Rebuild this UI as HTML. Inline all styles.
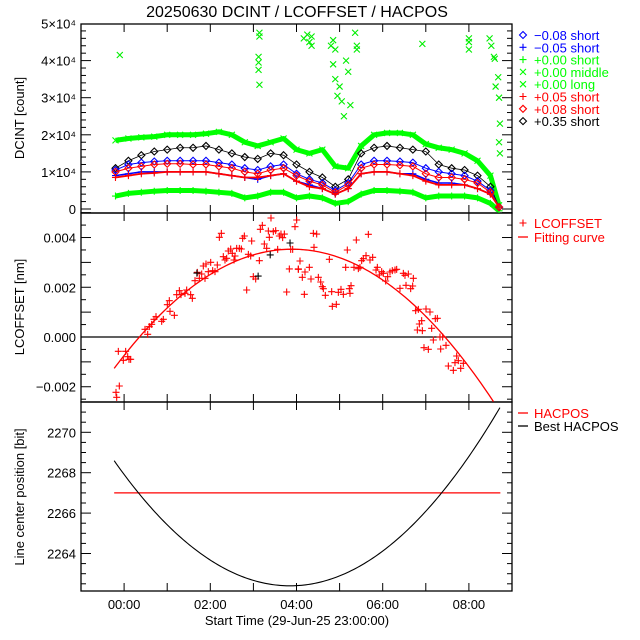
<!DOCTYPE html>
<html><head><meta charset="utf-8"><style>
html,body{margin:0;padding:0;background:#fff;}
svg{display:block;font-family:"Liberation Sans","DejaVu Sans",sans-serif;}
</style></head><body>
<svg id="chart" width="640" height="640" viewBox="0 0 640 640" xmlns="http://www.w3.org/2000/svg">
<rect x="0" y="0" width="640" height="640" fill="#fff"/>
<text x="297" y="17" font-size="16" text-anchor="middle">20250630 DCINT / LCOFFSET / HACPOS</text>
<defs>
<clipPath id="c1"><rect x="81" y="24" width="431" height="189"/></clipPath>
<clipPath id="c2"><rect x="81" y="213" width="431" height="189"/></clipPath>
<clipPath id="c3"><rect x="81" y="402" width="431" height="189"/></clipPath>
</defs>
<g id="axes"></g>
<g id="p1" clip-path="url(#c1)"></g>
<g id="p2" clip-path="url(#c2)"></g>
<g id="p3" clip-path="url(#c3)"></g>
<text transform="translate(24,118) rotate(-90)" font-size="13" text-anchor="middle">DCINT [count]</text>
<text transform="translate(24,307) rotate(-90)" font-size="13" text-anchor="middle">LCOFFSET [nm]</text>
<text transform="translate(24,497) rotate(-90)" font-size="13" text-anchor="middle">Line center position [bit]</text>
<text x="297" y="625" font-size="13" text-anchor="middle">Start Time (29-Jun-25 23:00:00)</text>
<g id="legend"></g>
</svg>
<script>
// ---- DCINT panel data (values in units of 1e4 counts) ----
const dcTimes = [0.8,1.1,1.4,1.7,2.0,2.3,2.6,2.9,3.2,3.5,3.8,4.1,4.4,4.7,5.0,5.3,5.6,5.9,6.2,6.5,6.8,7.1,7.4,7.7,8.0,8.3,8.6,8.9,9.2,9.5,9.7];
const greenLong = [1.85,1.9,1.93,1.95,2.0,2.0,2.0,2.03,2.08,2.0,1.8,1.7,1.8,1.9,1.6,1.5,1.6,1.15,1.1,1.7,2.0,2.05,2.05,2.0,1.75,1.65,1.6,1.5,1.3,0.9,0.1];
const blackDiamond = [1.1,1.3,1.45,1.55,1.6,1.65,1.65,1.7,1.6,1.5,1.4,1.35,1.5,1.45,1.2,1.0,0.85,0.6,0.8,1.5,1.65,1.7,1.65,1.6,1.55,1.2,1.1,1.05,0.9,0.6,0.05];
const blueDiamond = [1.05,1.2,1.25,1.28,1.3,1.3,1.3,1.3,1.25,1.2,1.1,1.05,1.15,1.2,0.95,0.8,0.7,0.5,0.7,1.2,1.3,1.3,1.28,1.25,1.1,1.0,0.95,0.9,0.75,0.5,0.05];
const bluePlus = [0.9,0.95,1.0,1.0,1.0,1.0,1.0,1.0,0.95,0.9,0.85,0.8,0.9,0.95,0.75,0.65,0.55,0.4,0.55,0.95,1.0,1.0,0.95,0.95,0.8,0.7,0.7,0.65,0.55,0.4,0.05];
const redDiamond = [1.0,1.1,1.15,1.2,1.22,1.22,1.2,1.2,1.15,1.1,1.0,0.95,1.05,1.1,0.9,0.75,0.65,0.45,0.65,1.1,1.2,1.2,1.18,1.15,0.95,0.85,0.85,0.8,0.7,0.45,0.05];
const redPlus = [0.85,0.9,0.95,0.97,1.0,1.0,1.0,1.0,0.95,0.9,0.85,0.85,0.9,0.95,0.75,0.6,0.55,0.4,0.55,0.95,1.0,1.0,0.95,0.9,0.75,0.65,0.65,0.65,0.55,0.4,0.05];
const greenShort = [0.35,0.42,0.45,0.48,0.5,0.5,0.5,0.48,0.45,0.42,0.3,0.35,0.45,0.45,0.3,0.35,0.3,0.15,0.2,0.4,0.5,0.5,0.48,0.45,0.3,0.35,0.35,0.35,0.3,0.15,-0.05];
const spikeTimes = [0.9,4.14,4.14,4.12,4.12,4.12,4.14,5.17,5.25,5.35,5.3,5.35,5.8,5.85,5.9,5.85,5.9,5.95,6.0,6.05,6.1,6.15,6.2,6.25,6.36,6.4,6.4,7.92,9.0,9.0,9.0,9.48,9.52,9.58,9.6,9.62,9.68,9.7,9.72,9.7,9.72];
const spikeValues = [4.15,4.75,4.65,4.1,3.95,3.75,3.35,4.6,4.7,4.65,4.5,4.4,4.4,4.55,4.3,3.9,3.5,3.05,3.3,2.9,2.5,4.0,3.7,2.8,4.75,4.3,4.4,4.45,4.5,4.3,4.6,4.6,4.4,4.1,4.05,3.3,3.55,3.0,2.3,1.8,1.5];
const dcTickLabels = ["0","1×10⁴","2×10⁴","3×10⁴","4×10⁴","5×10⁴"];
const dcTickValues = [0,1,2,3,4,5];
// ---- LCOFFSET panel data (values in units of 1e-3 nm) ----
const lcTimes = [0.866,0.812,0.828,0.889,0.982,1.036,1.083,1.114,1.152,1.485,1.547,1.585,1.640,1.694,1.740,1.872,1.910,2.003,2.049,2.065,2.166,2.220,2.282,2.320,2.413,2.452,2.544,2.583,2.645,2.699,2.746,2.800,2.838,2.877,2.900,2.954,3.009,3.055,3.109,3.163,3.210,3.256,3.302,3.341,3.380,3.418,3.473,3.511,3.550,3.573,3.612,3.674,3.720,3.751,3.790,3.844,3.883,3.937,3.960,3.998,4.053,4.138,4.161,4.207,4.254,4.308,4.347,4.370,4.408,4.462,4.517,4.563,4.602,4.640,4.679,4.718,4.772,4.834,4.865,4.911,4.965,5.004,5.043,5.391,5.468,5.406,5.081,5.043,5.197,5.298,5.135,5.336,5.182,5.507,5.561,5.599,5.623,5.669,5.762,5.816,5.831,5.924,5.971,6.032,6.087,6.179,6.141,6.226,6.265,6.241,6.388,6.334,6.435,6.473,6.512,6.551,6.613,6.667,6.705,6.767,6.845,6.876,6.922,6.976,7.015,7.069,7.115,7.169,7.223,7.285,7.324,7.401,7.479,7.517,7.595,7.541,7.649,7.695,7.711,7.765,7.827,7.850,7.904,7.920,7.804,8.005,8.097,8.136,8.221,8.268,8.175,8.329,8.391,7.958,8.059,8.345,8.469,8.523,8.639,8.677,8.716,8.755,8.810,8.871];
const lcValues = [-0.576,-2.225,-2.426,-1.970,-0.938,-0.576,-0.791,-0.898,-0.898,0.308,0.107,0.415,0.509,0.710,0.818,0.630,0.710,1.300,1.461,1.032,0.871,1.702,1.863,1.702,1.756,1.890,1.702,1.555,2.265,2.600,2.359,2.533,2.855,2.359,2.935,2.627,3.002,2.667,2.627,2.895,4.007,4.168,3.230,3.096,3.163,3.458,3.538,3.364,3.096,3.257,3.565,3.565,3.538,3.967,4.061,1.890,3.324,3.257,3.860,2.426,2.332,3.069,4.329,4.490,3.739,3.565,4.262,4.007,4.785,4.235,4.276,3.525,4.061,4.141,3.994,4.141,1.809,2.735,3.525,3.525,4.436,4.704,2.735,4.168,4.141,3.605,3.056,2.721,2.614,2.801,2.399,2.332,1.716,2.399,2.211,2.024,1.943,1.675,3.123,1.823,1.233,1.313,1.796,1.917,1.716,3.498,2.801,1.943,2.064,1.756,3.900,2.801,2.748,2.801,3.069,3.150,3.270,4.128,3.096,3.203,2.694,2.801,2.493,2.627,2.560,2.252,2.426,2.614,2.667,2.694,2.721,1.957,2.560,2.480,2.533,2.077,1.943,2.051,2.359,1.059,1.112,0.523,0.657,0.255,0.281,1.126,1.005,0.348,0.737,0.751,-0.121,0.000,0.000,-0.429,-0.496,-0.483,-0.335,-1.166,-1.340,-1.032,-0.764,-0.952,-1.260,-1.059];
const lcBlackTimes = [2.69,4.11,4.85,4.39];
const lcBlackValues = [2.57,2.45,3.78,3.3];
const lcFit = {peakTime:4.9, peakValue:3.53, curvature:0.281, start:0.77, end:9.6};
const lcTickLabels = ["−0.002","0.000","0.002","0.004"];
const lcTickValues = [-2,0,2,4];
// ---- HACPOS panel ----
const hacposValue = 2267;
const bestFit = {minTime:4.85, minValue:2262.4, curvature:0.372, start:0.77, end:9.73};
const hcTickLabels = ["2264","2266","2268","2270"];
const hcTickValues = [2264,2266,2268,2270];
const xTickLabels = ["00:00","02:00","04:00","06:00","08:00"];
const xTickHours = [1,3,5,7,9];

const NS="http://www.w3.org/2000/svg";
const X = t => 81 + t*43.1;
const Y1 = v => 209 - v*37.1;
const Y2 = v => 337 - v*24.87;
const Y3 = v => 432.3 - (v-2270)*20.2;
function mk(tag, parent, attrs){const e=document.createElementNS(NS,tag);for(const k in attrs)e.setAttribute(k,attrs[k]);parent.appendChild(e);return e;}
function marker(g,type,x,y,col){
  let d;
  if(type==='plus') d=`M${x-3.5},${y}H${x+3.5}M${x},${y-3.5}V${y+3.5}`;
  else if(type==='x') d=`M${x-3},${y-3}L${x+3},${y+3}M${x-3},${y+3}L${x+3},${y-3}`;
  else d=`M${x},${y-3.5}L${x+3.5},${y}L${x},${y+3.5}L${x-3.5},${y}Z`;
  return mk('path',g,{d:d,stroke:col,'stroke-width':1.1,fill:'none'});
}
const axes=document.getElementById('axes');
const panels=[[24,213],[213,402],[402,591]];
panels.forEach((p,i)=>{
  const r=mk('rect',axes,{x:81,y:p[0],width:431,height:189,fill:'none',stroke:'#000','stroke-width':1.3});
  
  
  for(let h=1;h<10;h++){
    mk('line',axes,{x1:X(h),x2:X(h),y1:p[0],y2:p[0]+8,stroke:'#000'});
    mk('line',axes,{x1:X(h),x2:X(h),y1:p[1],y2:p[1]-8,stroke:'#000'});
  }
});
function yTicks(scale,lo,hi,minorStep,majorStep,top,bot){
  for(let v=lo;v<=hi+1e-9;v+=minorStep){
    const y=scale(v); if(y<top-0.5||y>bot+0.5)continue;
    const major=Math.abs(v/majorStep-Math.round(v/majorStep))<1e-6;
    const L=major?10:5;
    mk('line',axes,{x1:81,x2:81+L,y1:y,y2:y,stroke:'#000'});
    mk('line',axes,{x1:512,x2:512-L,y1:y,y2:y,stroke:'#000'});
  }
}
yTicks(Y1,0,5,0.2,1,24,213);
yTicks(Y2,-2.5,5,0.5,1,213,402);
yTicks(Y3,2262.5,2271.5,0.5,2,402,591);
dcTickValues.forEach((v,i)=>{const t=mk('text',axes,{x:76,y:Y1(v)+5,'font-size':13,'text-anchor':'end'});t.textContent=dcTickLabels[i];
});
lcTickValues.forEach((v,i)=>{const t=mk('text',axes,{x:76,y:Y2(v)+5,'font-size':13,'text-anchor':'end'});t.textContent=lcTickLabels[i];
});
hcTickValues.forEach((v,i)=>{const t=mk('text',axes,{x:76,y:Y3(v)+5,'font-size':13,'text-anchor':'end'});t.textContent=hcTickLabels[i];
});
xTickHours.forEach((h,i)=>{const t=mk('text',axes,{x:X(h),y:609,'font-size':13,'text-anchor':'middle'});t.textContent=xTickLabels[i];
});

const p1=document.getElementById('p1');
const series=[
 ['green-long-band',greenLong,'#00ff00','x',5],
 ['green-short-band',greenShort,'#00ff00','plus',5],
 ['black-035-short',blackDiamond,'#000000','diamond',0.8],
 ['blue-008-short',blueDiamond,'#0000ff','diamond',1],
 ['red-008-short',redDiamond,'#ff0000','diamond',1],
 ['blue-005-short',bluePlus,'#0000ff','plus',1.5],
 ['red-005-short',redPlus,'#ff0000','plus',1.8],
];
series.forEach(s=>{
  const g=mk('g',p1,{});
  
  
  const pts=dcTimes.map((t,i)=>X(t)+','+Y1(s[1][i])).join(' ');
  mk('polyline',g,{points:pts,fill:'none',stroke:s[2],'stroke-width':s[4],'stroke-linejoin':'round'});
  dcTimes.forEach((t,i)=>marker(g,s[3],X(t),Y1(s[1][i]),s[2]));
});
const sg=mk('g',p1,{});


spikeTimes.forEach((t,i)=>marker(sg,'x',X(t),Y1(spikeValues[i]),'#00ee00'));

const p2=document.getElementById('p2');
const zl=mk('line',p2,{x1:81,x2:512,y1:Y2(0),y2:Y2(0),stroke:'#000','stroke-width':1.2});


let fp=[];
for(let t=lcFit.start;t<=lcFit.end;t+=0.05) fp.push(X(t)+','+Y2(lcFit.peakValue-lcFit.curvature*(t-lcFit.peakTime)**2));
const fc=mk('polyline',p2,{points:fp.join(' '),fill:'none',stroke:'#ff0000','stroke-width':1.3});


const lg=mk('g',p2,{});


lcTimes.forEach((t,i)=>marker(lg,'plus',X(t),Y2(lcValues[i]),'#ff0000'));
const lb=mk('g',p2,{});


lcBlackTimes.forEach((t,i)=>marker(lb,'plus',X(t),Y2(lcBlackValues[i]),'#000'));

const p3=document.getElementById('p3');
const hl=mk('line',p3,{x1:X(bestFit.start),x2:X(bestFit.end),y1:Y3(hacposValue),y2:Y3(hacposValue),stroke:'#ff0000','stroke-width':1.3});


let bp=[];
for(let t=bestFit.start;t<=bestFit.end+1e-9;t+=0.05) bp.push(X(t)+','+Y3(bestFit.minValue+bestFit.curvature*(t-bestFit.minTime)**2));
const bc=mk('polyline',p3,{points:bp.join(' '),fill:'none',stroke:'#000','stroke-width':1.1});



const leg=document.getElementById('legend');
const legendLabels=["−0.08 short","−0.05 short","+0.00 short","+0.00 middle","+0.00 long","+0.05 short","+0.08 short","+0.35 short"];
const legendColors=["#0000ff","#0000ff","#00ff00","#00ff00","#00ff00","#ff0000","#ff0000","#000000"];
const legendMarkers=["diamond","plus","plus","x","x","plus","diamond","diamond"];
legendLabels.forEach((l,i)=>{
  const y=35+i*12.3;
  const g=mk('g',leg,{});
  
  
  marker(g,legendMarkers[i],523,y,legendColors[i]);
  const t=mk('text',g,{x:534,y:y+5,'font-size':13,fill:legendColors[i]});t.textContent=l;
});
function lineLegend(y,col,label,sym){
  const g=mk('g',leg,{});
  
  
  if(sym==='plus') marker(g,'plus',523,y,col); else mk('line',g,{x1:518,x2:528,y1:y,y2:y,stroke:col,'stroke-width':1.3});
  const t=mk('text',g,{x:534,y:y+5,'font-size':13,fill:col});t.textContent=label;
}
lineLegend(223,'#ff0000','LCOFFSET','plus');
lineLegend(237,'#ff0000','Fitting curve','line');
lineLegend(413,'#ff0000','HACPOS','line');
lineLegend(426,'#000000','Best HACPOS','line');
</script>
</body></html>
